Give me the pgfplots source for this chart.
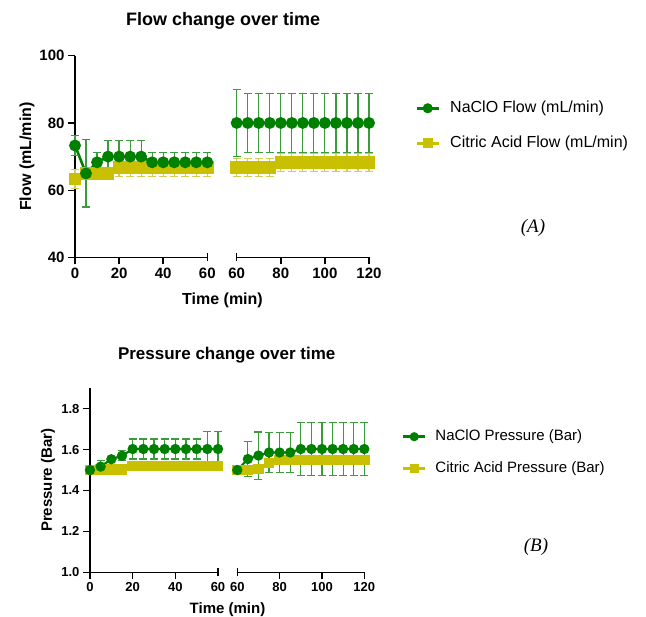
\documentclass[border=0pt]{standalone}
\usepackage{pgfplots}
\pgfplotsset{compat=1.18}
\usepackage{pgfplotstable}
\usepackage{fontspec}
\setmainfont{Liberation Sans}
\newfontfamily\timesfont{Liberation Serif}

\definecolor{nagreen}{RGB}{0,128,0}
\definecolor{nabar}{RGB}{60,155,60}
\definecolor{cayel}{RGB}{200,192,0}
\definecolor{cabar}{RGB}{212,205,80}

% flow, 0-60 min
\pgfplotstableread{
x y e
0 73.3 2.9
5 65 10
10 68.3 2.9
15 70 4.8
20 70 4.8
25 70 4.8
30 70 4.8
35 68.3 2.9
40 68.3 2.9
45 68.3 2.9
50 68.3 2.9
55 68.3 2.9
60 68.3 2.9
}\naflowL
\pgfplotstableread{
x y e
0 63.3 2.8
5 65 0
10 65 0
15 65 0
20 66.7 2.7
25 66.7 2.7
30 66.7 2.7
35 66.7 2.7
40 66.7 2.7
45 66.7 2.7
50 66.7 2.7
55 66.7 2.7
60 66.7 2.7
}\caflowL
% flow, 60-120 min
\pgfplotstableread{
x y e
60 80 10
65 80 8.7
70 80 8.7
75 80 8.7
80 80 8.7
85 80 8.7
90 80 8.7
95 80 8.7
100 80 8.7
105 80 8.7
110 80 8.7
115 80 8.7
120 80 8.7
}\naflowR
\pgfplotstableread{
x y e
60 66.7 2.7
65 66.7 2.7
70 66.7 2.7
75 66.7 2.7
80 68.3 2.7
85 68.3 2.7
90 68.3 2.7
95 68.3 2.7
100 68.3 2.7
105 68.3 2.7
110 68.3 2.7
115 68.3 2.7
120 68.3 2.7
}\caflowR
% pressure, 0-60 min
\pgfplotstableread{
x y e
0 1.5 0
5 1.517 0.028
10 1.553 0
15 1.57 0.025
20 1.603 0.049
25 1.603 0.049
30 1.603 0.049
35 1.603 0.049
40 1.603 0.049
45 1.603 0.049
50 1.603 0.049
55 1.603 0.087
60 1.603 0.087
}\napresL
\pgfplotstableread{
x y e
0 1.5 0
5 1.503 0
10 1.503 0
15 1.503 0
20 1.52 0.022
25 1.52 0.022
30 1.52 0.022
35 1.52 0.022
40 1.52 0.022
45 1.52 0.022
50 1.52 0.022
55 1.52 0.022
60 1.52 0.022
}\capresL
% pressure, 60-120 min
\pgfplotstableread{
x y e
60 1.5 0
65 1.554 0.085
70 1.571 0.115
75 1.586 0.098
80 1.586 0.098
85 1.586 0.098
90 1.603 0.129
95 1.603 0.129
100 1.603 0.129
105 1.603 0.129
110 1.603 0.129
115 1.603 0.129
120 1.603 0.129
}\napresR
\pgfplotstableread{
x y e
60 1.5 0
65 1.5 0
70 1.505 0
75 1.535 0.015
80 1.55 0.015
85 1.55 0.015
90 1.55 0.015
95 1.55 0.015
100 1.55 0.015
105 1.55 0.015
110 1.55 0.015
115 1.55 0.015
120 1.55 0.015
}\capresR

\pgfplotsset{
  brk/.style={
    scale only axis, clip=false,
    axis x line*=bottom,
    axis line style={-, line width=1.4pt},
    tick style={black, line width=1.4pt},
    tick align=outside, major tick length=7pt,
    /pgf/number format/assume math mode=true,
    extra x tick style={tick align=center, major tick length=8pt,
      xticklabel style={yshift=-3pt}},
  },
  fontA/.style={ticklabel style={font=\bfseries\fontsize{15}{15}\selectfont},
    label style={font=\bfseries\fontsize{16}{16}\selectfont},
    title style={font=\bfseries\fontsize{18}{18}\selectfont}},
  fontB/.style={ticklabel style={font=\bfseries\fontsize{13}{13}\selectfont},
    label style={font=\bfseries\fontsize{15}{15}\selectfont},
    title style={font=\bfseries\fontsize{17}{17}\selectfont}},
  naA/.style={nagreen, line width=2.6pt, mark=*, mark size=4.6pt,
    error bars/.cd, y dir=both, y explicit, error mark=|,
    error bar style={nabar, line width=1.2pt},
    error mark options={nabar, line width=1.2pt, mark size=3.8pt}},
  caA/.style={cayel, line width=2.6pt, mark=square*, mark size=5pt,
    error bars/.cd, y dir=both, y explicit, error mark=|,
    error bar style={cabar, line width=1.2pt},
    error mark options={cabar, line width=1.2pt, mark size=3.8pt}},
  naB/.style={nagreen, line width=2.2pt, mark=*, mark size=4pt,
    error bars/.cd, y dir=both, y explicit, error mark=|,
    error bar style={nabar, line width=1.1pt},
    error mark options={nabar, line width=1.1pt, mark size=4pt}},
  caB/.style={cayel, line width=2.2pt, mark=square*, mark size=4.2pt,
    error bars/.cd, y dir=both, y explicit, error mark=|,
    error bar style={cabar, line width=1.1pt},
    error mark options={cabar, line width=1.1pt, mark size=4pt}},
  legend image code/.code={\draw[mark repeat=2,mark phase=2,#1]
    plot coordinates {(0pt,0pt) (11pt,0pt) (22pt,0pt)};},
}

\begin{document}
\begin{tikzpicture}
\useasboundingbox (0,0) rectangle (646pt,617pt);

% ---- (A) flow, left part
\begin{axis}[brk, fontA, at={(75pt,359.5pt)}, anchor=south west,
  width=132.3pt, height=201.8pt,
  axis y line*=left,
  xmin=0, xmax=60, ymin=40, ymax=100,
  xtick={0,20,40}, extra x ticks={60}, ytick={40,60,80,100},
  ylabel={Flow (mL/min)},
  ylabel style={at={(axis description cs:-0.363,0.5)}, anchor=center},
  xlabel={Time (min)},
  xlabel style={at={(axis description cs:1.115,-0.234)}, anchor=base},
  title={Flow change over time},
  title style={at={(axis description cs:1.119,1.119)}, anchor=base},
]
\addplot[caA] table[x=x, y=y, y error=e] {\caflowL};
\addplot[naA] table[x=x, y=y, y error=e] {\naflowL};
\end{axis}

% ---- (A) flow, right part
\begin{axis}[brk, fontA, at={(236.7pt,359.5pt)}, anchor=south west,
  width=132.3pt, height=201.8pt,
  axis y line=none,
  xmin=60, xmax=120, ymin=40, ymax=100,
  xtick={80,100,120}, extra x ticks={60},
  legend style={at={(axis description cs:1.348,0.6526)}, anchor=west,
    draw=none, fill=none, inner sep=0pt,
    font=\fontsize{16}{16}\selectfont,
    nodes={inner sep=0pt, text height=11.5pt, text depth=3.5pt},
    row sep=20pt, column sep=10pt},
  legend cell align=left,
]
\addlegendimage{nagreen, line width=3pt, mark=*, mark size=3.5pt}
\addlegendentry{NaClO Flow (mL/min)}
\addlegendimage{cayel, line width=3pt, mark=square*, mark size=3.5pt}
\addlegendentry{Citric Acid Flow (mL/min)}
\addplot[forget plot, caA] table[x=x, y=y, y error=e] {\caflowR};
\addplot[forget plot, naA] table[x=x, y=y, y error=e] {\naflowR};
\end{axis}

% ---- (B) pressure, left part
\begin{axis}[brk, fontB, at={(90pt,44.7pt)}, anchor=south west,
  width=128pt, height=184pt,
  axis y line*=left,
  xmin=0, xmax=60, ymin=1.0, ymax=1.9,
  xtick={0,20,40}, extra x ticks={60}, ytick={1.0,1.2,1.4,1.6,1.8},
  yticklabel style={/pgf/number format/.cd, fixed, fixed zerofill, precision=1},
  ylabel={Pressure (Bar)},
  ylabel style={at={(axis description cs:-0.328,0.5)}, anchor=center},
  xlabel={Time (min)},
  xlabel style={at={(axis description cs:1.074,-0.226)}, anchor=base},
  title={Pressure change over time},
  title style={at={(axis description cs:1.068,1.124)}, anchor=base},
]
\addplot[caB] table[x=x, y=y, y error=e] {\capresL};
\addplot[naB] table[x=x, y=y, y error=e] {\napresL};
\end{axis}

% ---- (B) pressure, right part
\begin{axis}[brk, fontB, at={(237.3pt,44.7pt)}, anchor=south west,
  width=127pt, height=184pt,
  axis y line=none,
  xmin=60, xmax=120, ymin=1.0, ymax=1.9,
  xtick={80,100,120}, extra x ticks={60},
  legend style={at={(axis description cs:1.2945,0.651)}, anchor=west,
    draw=none, fill=none, inner sep=0pt,
    font=\fontsize{15}{15}\selectfont,
    nodes={inner sep=0pt, text height=10.8pt, text depth=3.2pt},
    row sep=17.6pt, column sep=9pt},
  legend cell align=left,
]
\addlegendimage{nagreen, line width=2.6pt, mark=*, mark size=3.2pt}
\addlegendentry{NaClO Pressure (Bar)}
\addlegendimage{cayel, line width=2.6pt, mark=square*, mark size=3.2pt}
\addlegendentry{Citric Acid Pressure (Bar)}
\addplot[forget plot, caB] table[x=x, y=y, y error=e] {\capresR};
\addplot[forget plot, naB] table[x=x, y=y, y error=e] {\napresR};
\end{axis}

\node at (533pt,389pt) {\timesfont\itshape\fontsize{19}{19}\selectfont (A)};
\node at (536pt,70.5pt) {\timesfont\itshape\fontsize{19}{19}\selectfont (B)};
\end{tikzpicture}
\end{document}
